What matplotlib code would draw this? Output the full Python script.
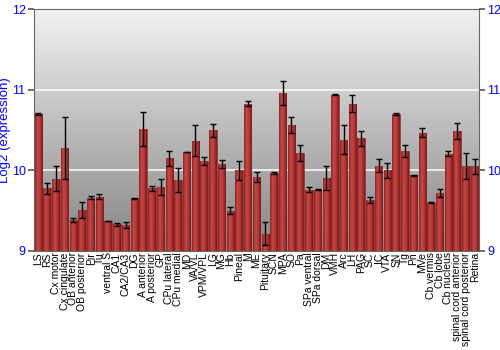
import numpy as np
import matplotlib
matplotlib.use('Agg')
import matplotlib.pyplot as plt

plt.rcParams['font.family'] = ['Liberation Sans', 'DejaVu Sans']

# regiony i wartosci (log2 ekspresji) z bledami
regions = ['LS', 'RS', 'Cx motor', 'Cx cingulate', 'OB anterior', 'OB posterior',
           'Pir', 'Tu', 'ventral S', 'CA1', 'CA2/CA3', 'DG', 'A anterior',
           'A posterior', 'GP', 'CPu lateral', 'CPu medial', 'MD', 'VA/VL',
           'VPM/VPL', 'LG', 'MG', 'Hb', 'Pineal', 'M', 'ME', 'Pituitary', 'SCN',
           'MPA', 'SO', 'Pa', 'SPa ventral', 'SPa dorsal', 'DM', 'VMH', 'Arc',
           'LH', 'PAG', 'SC', 'IC', 'VTA', 'SN', 'Tg', 'Pn', 'MVe', 'Cb vermis',
           'Cb lobe', 'Cb nucleus', 'spinal cord anterior',
           'spinal cord posterior', 'Retina']
values = [10.70, 9.78, 9.90, 10.28, 9.385, 9.51, 9.66, 9.675, 9.373, 9.33,
          9.32, 9.655, 10.51, 9.78, 9.79, 10.15, 9.88, 10.23, 10.37, 10.12,
          10.50, 10.085, 9.50, 10.00, 10.83, 9.92, 9.215, 9.965, 10.96, 10.56,
          10.22, 9.76, 9.76, 9.91, 10.94, 10.38, 10.83, 10.40, 9.63, 10.06,
          10.00, 10.70, 10.24, 9.94, 10.47, 9.60, 9.72, 10.21, 10.49, 10.06,
          10.05]
errors = [0.015, 0.07, 0.16, 0.39, 0.03, 0.10, 0.02, 0.03, 0.005, 0.02,
          0.04, 0.008, 0.21, 0.03, 0.10, 0.09, 0.145, 0.005, 0.19, 0.05,
          0.08, 0.05, 0.04, 0.115, 0.03, 0.06, 0.14, 0.015, 0.15, 0.10,
          0.10, 0.03, 0.008, 0.15, 0.005, 0.18, 0.11, 0.095, 0.04, 0.08,
          0.09, 0.01, 0.075, 0.008, 0.06, 0.01, 0.045, 0.03, 0.10, 0.16,
          0.09]

fig = plt.figure(figsize=(5, 3.5), dpi=100)
ax = fig.add_axes([0.068, 0.283, 0.89, 0.69])

n = len(regions)
x = np.arange(n)
ax.set_xlim(-0.5, n - 0.5)
ax.set_ylim(9, 12)

# tlo - gradient szary
ax.imshow(np.linspace(1, 0, 256).reshape(-1, 1), extent=[-0.5, n - 0.5, 9, 12],
          aspect='auto', origin='lower', zorder=0,
          cmap=matplotlib.colors.LinearSegmentedColormap.from_list(
              'bg2', ['#f2f2f2', '#858585']))

for yy in [10, 11]:
    ax.axhline(yy, color='white', lw=1.2, alpha=0.9, zorder=1)

bars = ax.bar(x, np.array(values) - 9, bottom=9, width=0.85,
              color='#b23535', edgecolor='#8a2020', lw=0.4, zorder=2)

# gradient na slupkach
bcmap = matplotlib.colors.LinearSegmentedColormap.from_list(
    'bar', ['#8e2222', '#c54a4a', '#b33636', '#7a1a1a'])
hg = np.linspace(0, 1, 64).reshape(1, -1)
for b in bars:
    im = ax.imshow(hg, extent=[b.get_x(), b.get_x() + b.get_width(), 9, b.get_height() + 9],
                   aspect='auto', cmap=bcmap, zorder=2.5)
    im.set_clip_path(b)

ax.errorbar(x, values, yerr=errors, fmt='none', ecolor='black', elinewidth=1,
            capsize=2.2, capthick=1, zorder=3)

ax.set_xticks(x)
ax.set_xticklabels(regions, rotation=90, fontsize=7.5,
                   family=['Liberation Sans Narrow', 'Liberation Sans', 'DejaVu Sans'])
ax.tick_params(axis='x', length=0, pad=1)
ax.set_yticks([9, 10, 11, 12])
ax.tick_params(axis='y', colors='#555555', labelcolor='blue', labelsize=9,
               length=4, width=1.2, left=True, right=True, labelright=True,
               pad=2)
ax.set_ylabel('Log2 (expression)', color='blue', fontsize=9.5)
ax.yaxis.set_label_coords(-0.052, 0.5)
for s in ax.spines.values():
    s.set_color('#666666')

fig.savefig('out.png', dpi=100)
